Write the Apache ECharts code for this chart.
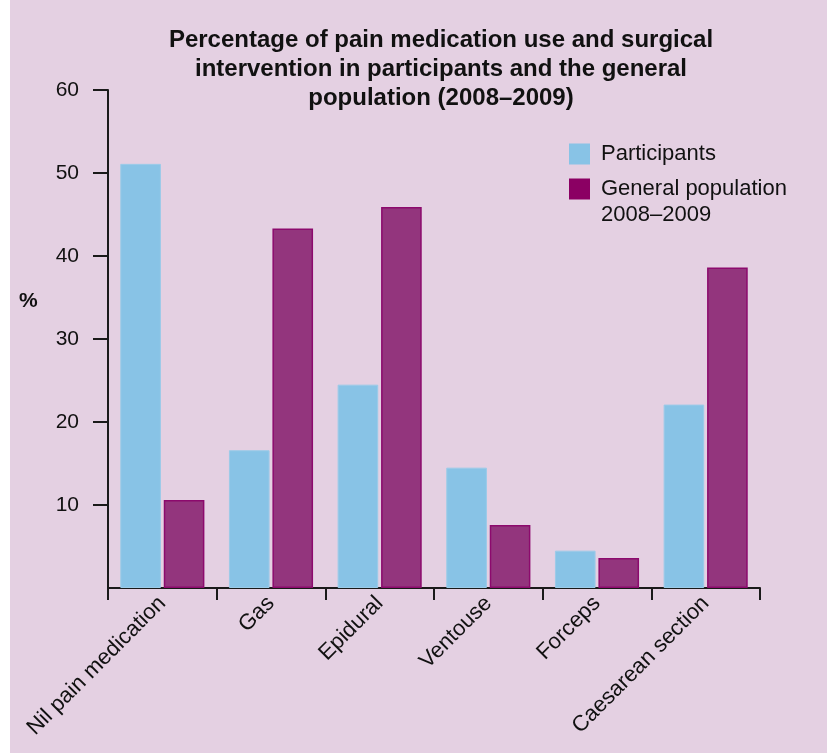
<!DOCTYPE html>
<html>
<head>
<meta charset="utf-8">
<script src="https://cdn.jsdelivr.net/npm/echarts@6/dist/echarts.min.js"></script>
<style>
html,body{margin:0;padding:0;background:#e4d0e2;}
#chart{width:827px;height:753px;}
</style>
</head>
<body>
<div id="chart"></div>
<script>
const categories = ['Nil pain medication', 'Gas', 'Epidural', 'Ventouse', 'Forceps', 'Caesarean section'];
const participants = [51.1, 16.6, 24.5, 14.5, 4.5, 22.1];
const generalPopulation = [10.6, 43.3, 45.9, 7.6, 3.6, 38.6];
const yTicks = [10, 20, 30, 40, 50, 60];
const titleText = 'Percentage of pain medication use and surgical\nintervention in participants and the general\npopulation (2008–2009)';
const seriesNames = ['Participants', 'General population 2008–2009'];

const FONT = '"Liberation Sans", Arial, Helvetica, sans-serif';
const chart = echarts.init(document.getElementById('chart'));
chart.setOption({
  backgroundColor: '#e4d0e2',
  animation: false,
  textStyle: { fontFamily: FONT },
  title: {
    text: titleText,
    left: 436, textAlign: 'center', top: 21,
    textStyle: { fontFamily: FONT, fontSize: 24, fontWeight: 'bold', color: '#111', lineHeight: 29 }
  },
  graphic: [
    { type: 'rect', left: 0, top: 0, shape: { width: 10, height: 753 }, style: { fill: '#ffffff' }, silent: true },
    { type: 'text', left: 19, top: 291, style: { text: '%', font: 'bold 21px ' + FONT, fill: '#111' } }
  ],
  legend: [
    {
      left: 569, top: 141, padding: 0, itemWidth: 21, itemHeight: 21, icon: 'rect',
      textStyle: { fontFamily: FONT, fontSize: 22, color: '#111', lineHeight: 26, padding: [0, 0, 0, 6] },
      data: [{ name: seriesNames[0], itemStyle: { color: '#88c3e6', borderWidth: 0 } }]
    },
    {
      left: 569, top: 150, padding: 0, itemWidth: 21, itemHeight: 21, icon: 'rect',
      formatter: () => '\u00a0\nGeneral population\n2008–2009',
      textStyle: { fontFamily: FONT, fontSize: 22, color: '#111', lineHeight: 26, padding: [0, 0, 0, 6] },
      data: [{ name: seriesNames[1], itemStyle: { color: '#8b0063', borderWidth: 0 } }]
    }
  ],
  grid: { left: 108, right: 67, top: 90, bottom: 165, containLabel: false },
  xAxis: {
    type: 'category', data: categories,
    axisLine: { lineStyle: { color: '#1a1a1a', width: 2 } },
    axisTick: { show: true, length: 12, lineStyle: { color: '#1a1a1a', width: 2 } },
    axisLabel: { rotate: 45, margin: 12, fontSize: 22, color: '#111', fontFamily: FONT, interval: 0 }
  },
  yAxis: {
    type: 'value', min: 0, max: 60, interval: 10,
    splitLine: { show: false },
    axisLine: { show: true, lineStyle: { color: '#1a1a1a', width: 2 } },
    axisTick: { show: true, length: 15, customValues: yTicks, lineStyle: { color: '#1a1a1a', width: 2 } },
    axisLabel: { margin: 29, fontSize: 21, color: '#111', fontFamily: FONT, customValues: yTicks }
  },
  series: [
    {
      name: seriesNames[0], type: 'bar', data: participants,
      barWidth: '37.4%', barGap: '7%',
      itemStyle: { color: '#88c3e6', borderColor: '#9ccbe8', borderWidth: 1 }
    },
    {
      name: seriesNames[1], type: 'bar', data: generalPopulation,
      barWidth: '37.4%',
      itemStyle: { color: '#93357d', borderColor: '#8c0a6d', borderWidth: 1.5 }
    }
  ]
});
</script>
</body>
</html>
